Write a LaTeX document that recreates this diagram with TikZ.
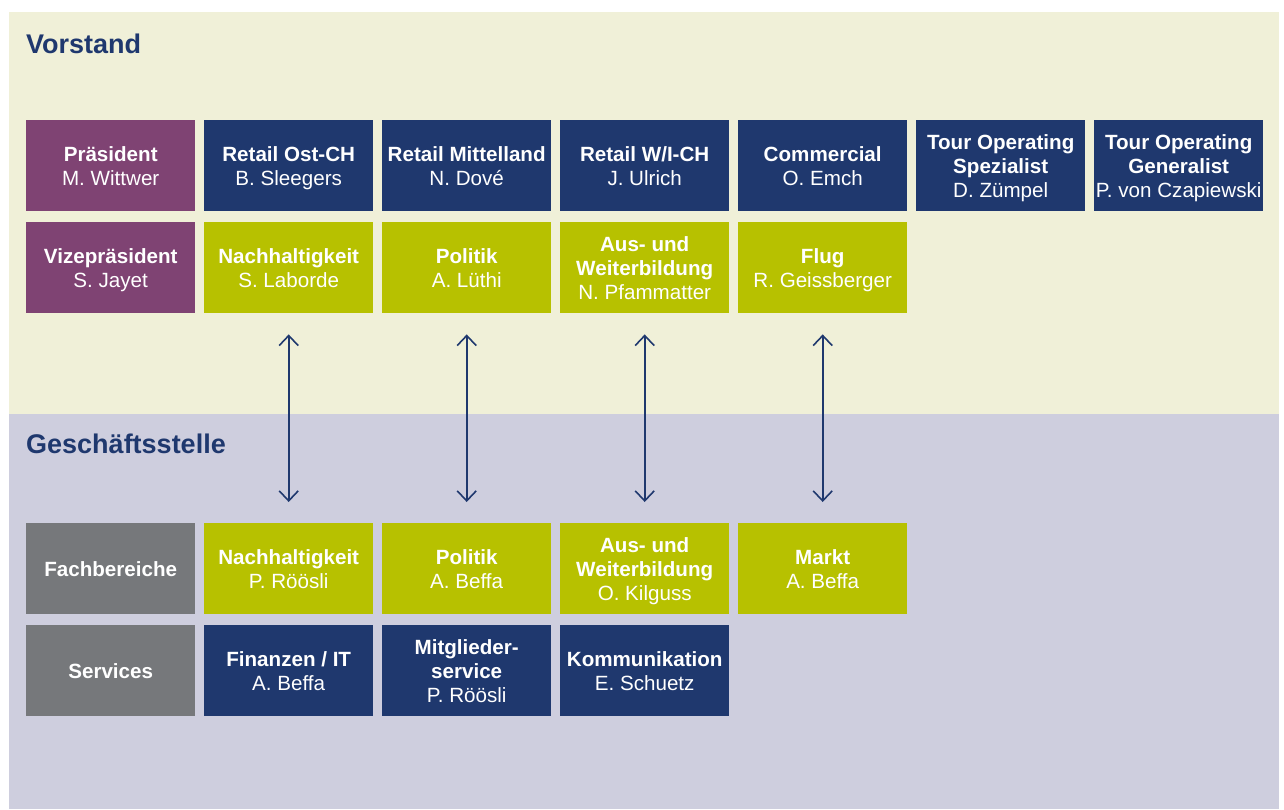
\documentclass[tikz,border=0pt]{standalone}
\usepackage{fontspec}
\setmainfont{Liberation Sans}
\usetikzlibrary{arrows.meta}
\definecolor{navy}{RGB}{31,56,110}
\definecolor{plum}{RGB}{127,67,115}
\definecolor{lime}{RGB}{183,193,0}
\definecolor{slate}{RGB}{118,120,123}
\definecolor{cream}{RGB}{240,240,216}
\definecolor{lav}{RGB}{206,206,222}
\tikzset{
  box/.style={anchor=north west, minimum width=169pt, minimum height=91pt, inner sep=0pt,
    align=center, text=white, font=\fontsize{20.6}{24}\selectfont},
  bluebox/.style={box, fill=navy},
  purplebox/.style={box, fill=plum},
  greenbox/.style={box, fill=lime},
  graybox/.style={box, fill=slate},
  sectitle/.style={anchor=base west, inner sep=0pt, text=navy, font=\fontsize{27}{30}\selectfont\bfseries},
  biarrow/.style={draw=navy, line width=1.8pt, {Straight Barb[length=10pt,width=19pt,line width=1.6pt]}-{Straight Barb[length=10pt,width=19pt,line width=1.6pt]}, shorten <=21pt, shorten >=21pt}
}
\newcommand{\ls}{\rule[-4.5pt]{0pt}{24pt}}
\newcommand{\bx}[2]{\textbf{#1}\ls\\#2\ls}
\newcommand{\bxx}[3]{\textbf{#1}\ls\\\textbf{#2}\ls\\#3\ls}
\begin{document}
\begin{tikzpicture}[x=1pt,y=-1pt]
\useasboundingbox (0,0) rectangle (1284,809);
\fill[white] (0,0) rectangle (1284,809);
\fill[cream] (9,12) rectangle (1279,414);
\fill[lav] (9,414) rectangle (1279,809);
\node[sectitle] (tv) at (26,53) {Vorstand};
\node[sectitle] (tg) at (26,453) {Geschäftsstelle};
% row 1
\node[purplebox] (v1) at (26,120) {\bx{Präsident}{M. Wittwer}};
\node[bluebox] (v2) at (204,120) {\bx{Retail Ost-CH}{B. Sleegers}};
\node[bluebox] (v3) at (382,120) {\bx{Retail Mittelland}{N. Dové}};
\node[bluebox] (v4) at (560,120) {\bx{Retail W/I-CH}{J. Ulrich}};
\node[bluebox] (v5) at (738,120) {\bx{Commercial}{O. Emch}};
\node[bluebox] (v6) at (916,120) {\bxx{Tour Operating}{Spezialist}{D. Zümpel}};
\node[bluebox] (v7) at (1094,120) {\bxx{Tour Operating}{Generalist}{P. von Czapiewski}};
% row 2
\node[purplebox] (w1) at (26,222) {\bx{Vizepräsident}{S. Jayet}};
\node[greenbox] (w2) at (204,222) {\bx{Nachhaltigkeit}{S. Laborde}};
\node[greenbox] (w3) at (382,222) {\bx{Politik}{A. Lüthi}};
\node[greenbox] (w4) at (560,222) {\bxx{Aus- und}{Weiterbildung}{N. Pfammatter}};
\node[greenbox] (w5) at (738,222) {\bx{Flug}{R. Geissberger}};
% row 3
\node[graybox] (f1) at (26,523) {\textbf{Fachbereiche}\ls};
\node[greenbox] (f2) at (204,523) {\bx{Nachhaltigkeit}{P. Röösli}};
\node[greenbox] (f3) at (382,523) {\bx{Politik}{A. Beffa}};
\node[greenbox] (f4) at (560,523) {\bxx{Aus- und}{Weiterbildung}{O. Kilguss}};
\node[greenbox] (f5) at (738,523) {\bx{Markt}{A. Beffa}};
% row 4
\node[graybox] (s1) at (26,625) {\textbf{Services}\ls};
\node[bluebox] (s2) at (204,625) {\bx{Finanzen / IT}{A. Beffa}};
\node[bluebox] (s3) at (382,625) {\bxx{Mitglieder-}{service}{P. Röösli}};
\node[bluebox] (s4) at (560,625) {\bx{Kommunikation}{E. Schuetz}};
% arrows
\draw[biarrow] (w2) -- (f2);
\draw[biarrow] (w3) -- (f3);
\draw[biarrow] (w4) -- (f4);
\draw[biarrow] (w5) -- (f5);
\end{tikzpicture}
\end{document}
